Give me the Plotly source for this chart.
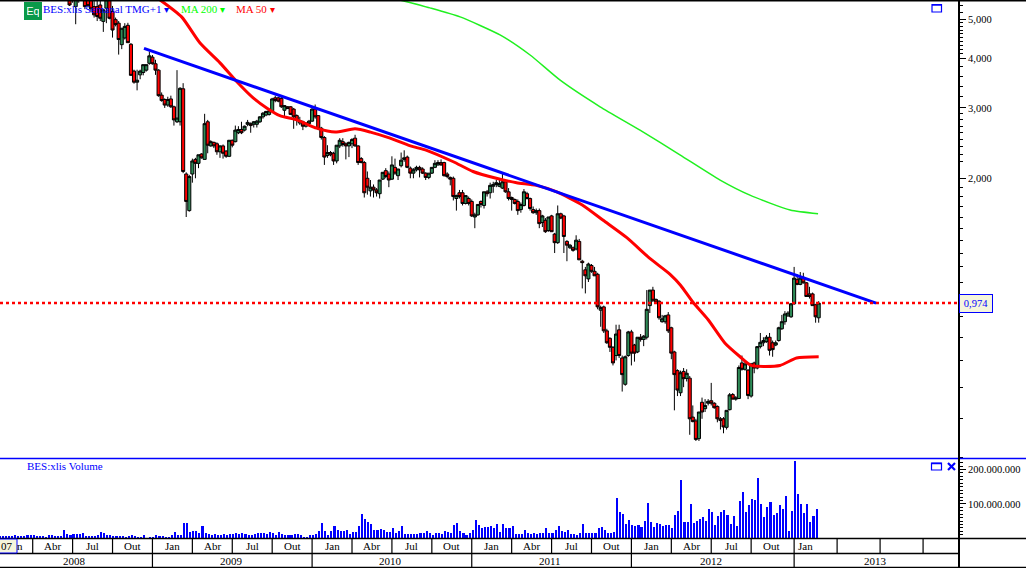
import plotly.graph_objects as go

W, H = 1026, 568
AX = 959

opens = [
 5.75,5.7,5.38,5.7,5.8,5.8,5.8,5.6,
 5.38,5.38,5.43,4.94,5.33,5.7,5.23,4.99,4.89,4.32,
 4.49,4.83,4.33,3.71,3.48,3.63,3.68,3.73,3.88,4.02,
 3.87,3.73,3.23,3.15,3.05,3.16,3.02,2.77,2.77,3.35,
 2.05,1.66,2.05,2.23,2.18,2.3,2.23,2.77,2.41,2.46,
 2.44,2.33,2.41,2.34,2.27,2.49,2.47,2.6,2.65,2.64,
 2.73,2.74,2.73,2.73,2.77,2.85,2.88,2.89,2.95,3.18,
 3.18,3.17,2.96,3.02,3.02,2.98,2.87,2.75,2.77,2.7,
 2.74,2.78,2.98,2.87,2.67,2.53,2.28,2.32,2.31,2.21,
 2.41,2.47,2.44,2.41,2.44,2.52,2.41,2.24,2.19,2.0,
 1.86,1.9,1.87,1.83,1.99,2.09,2.05,1.99,2.13,2.03,
 2.15,2.23,2.26,2.12,2.06,2.1,2.13,2.11,2.06,2.01,
 2.06,2.13,2.16,2.19,2.19,2.05,2.01,2.0,1.78,1.84,
 1.84,1.73,1.78,1.75,1.6,1.62,1.75,1.71,1.85,1.84,
 1.91,1.93,1.91,1.89,1.96,1.85,1.79,1.77,1.75,1.67,
 1.71,1.83,1.78,1.67,1.64,1.66,1.55,1.57,1.48,1.61,
 1.45,1.38,1.63,1.61,1.39,1.34,1.34,1.33,1.39,1.24,
 1.18,1.12,1.21,1.17,1.15,.935,.953,.83,.795,.755,
 .72,.835,.71,.61,.72,.825,.765,.735,.8,.79,
 .8,.96,1.05,.995,.985,.875,.875,.91,.845,.735,
 .66,.581,.657,.631,.632,.505,.494,.446,.55,.53,
 .547,.555,.547,.537,.5,.5,.476,.527,.575,.56,
 .562,.69,.665,.662,.57,.69,.67,.758,.775,.78,
 .8,.775,.765,.785,.84,.875,.905,.9,.97,1.115,
 1.085,1.13,1.095,1.027,1.027,.965,.895]
highs = [
 5.9,5.8,5.9,5.8,5.9,5.9,5.9,5.8,
 5.6,5.6,5.6,5.3,5.7,5.9,5.4,5.05,4.95,4.75,
 4.89,4.9,4.36,3.74,3.74,3.74,3.85,3.85,4.15,4.07,
 3.96,3.75,3.28,3.17,3.2,3.22,3.04,3.73,3.38,3.46,
 2.07,2.04,2.24,2.25,2.29,2.31,2.9,2.8,2.49,2.47,
 2.46,2.42,2.43,2.35,2.49,2.5,2.71,2.7,2.77,2.71,
 2.8,2.76,2.78,2.8,2.86,2.93,2.95,2.96,3.18,3.22,
 3.2,3.2,3.05,3.03,3.03,3.0,2.89,2.85,2.79,2.76,
 2.8,3.0,3.06,2.88,2.69,2.55,2.42,2.34,2.33,2.42,
 2.52,2.52,2.46,2.47,2.52,2.57,2.42,2.26,2.21,2.08,
 1.98,1.93,1.89,1.98,2.07,2.12,2.08,2.27,2.24,2.11,
 2.32,2.35,2.28,2.14,2.12,2.15,2.15,2.13,2.07,2.06,
 2.13,2.22,2.22,2.23,2.2,2.07,2.02,2.02,1.82,1.87,
 1.87,1.81,1.8,1.77,1.64,1.72,1.76,1.85,1.87,1.95,
 1.96,1.98,2.0,2.05,1.98,1.89,1.8,1.78,1.77,1.74,
 1.88,1.85,1.79,1.7,1.68,1.68,1.62,1.59,1.6,1.62,
 1.46,1.71,1.64,1.62,1.4,1.37,1.35,1.44,1.41,1.25,
 1.2,1.23,1.22,1.2,1.16,.96,.96,.84,.8,.76,
 .86,.86,.72,.72,.83,.835,.77,.8,.815,.81,
 1.05,1.05,1.07,1.0,.99,.91,.91,.925,.85,.74,
 .665,.66,.67,.665,.64,.54,.5,.52,.565,.56,
 .56,.615,.55,.54,.505,.505,.525,.58,.58,.57,
 .68,.72,.7,.665,.69,.695,.76,.82,.8,.81,
 .82,.785,.785,.85,.91,.93,.93,.975,1.2,1.15,
 1.165,1.16,1.1,1.07,1.035,.97,.985]
lows = [
 5.4,5.5,4.86,5.5,5.6,5.3,5.35,5.2,
 5.05,4.95,4.95,4.65,4.89,5.0,4.5,4.8,4.08,4.21,
 4.45,4.37,3.63,3.45,3.32,3.54,3.62,3.7,3.85,3.85,
 3.63,3.2,3.11,3.0,3.02,3.0,2.71,2.75,2.71,2.06,
 1.6,1.65,1.95,2.0,2.12,2.24,2.23,2.31,2.4,2.38,
 2.29,2.25,2.24,2.25,2.26,2.39,2.46,2.58,2.58,2.62,
 2.7,2.6,2.68,2.68,2.75,2.82,2.86,2.87,2.94,3.1,
 3.1,3.0,2.85,2.98,2.88,2.66,2.71,2.72,2.64,2.68,
 2.72,2.77,2.82,2.64,2.5,2.16,2.25,2.27,2.16,2.18,
 2.38,2.4,2.23,2.26,2.38,2.4,2.16,2.18,1.79,1.82,
 1.8,1.79,1.8,1.78,1.98,2.0,1.9,1.98,2.04,1.98,
 2.13,2.2,2.12,2.0,2.0,2.08,2.01,2.05,1.98,1.99,
 2.05,2.12,2.15,2.15,2.02,2.0,1.92,1.76,1.66,1.78,
 1.71,1.72,1.71,1.6,1.5,1.61,1.69,1.68,1.8,1.78,
 1.84,1.9,1.9,1.88,1.84,1.76,1.66,1.72,1.62,1.64,
 1.7,1.77,1.66,1.63,1.62,1.5,1.51,1.46,1.47,1.47,
 1.3,1.37,1.58,1.3,1.24,1.33,1.31,1.32,1.25,1.06,
 1.03,1.1,1.16,1.14,.94,.85,.82,.77,.735,.68,
 .7,.71,.585,.605,.715,.68,.695,.73,.78,.76,
 .79,.92,.98,.97,.885,.87,.865,.82,.705,.525,
 .57,.57,.6,.62,.456,.49,.44,.44,.5,.52,
 .54,.54,.53,.49,.47,.46,.47,.525,.56,.555,
 .56,.66,.66,.56,.565,.65,.665,.75,.76,.775,
 .72,.715,.76,.78,.835,.86,.9,.895,.965,1.08,
 1.08,1.09,1.01,1.0,.96,.87,.87]
closes = [
 5.43,5.6,5.7,5.6,5.65,5.38,5.41,5.31,
 5.13,5.08,5.03,5.28,5.6,5.03,4.7,4.85,4.45,4.75,
 4.8,4.37,3.62,3.48,3.52,3.71,3.85,3.85,4.05,3.87,
 3.73,3.22,3.13,3.05,3.15,3.02,2.8,2.83,3.36,2.08,
 1.75,2.02,2.21,2.18,2.29,2.25,2.74,2.42,2.47,2.41,
 2.33,2.41,2.31,2.27,2.49,2.42,2.64,2.65,2.6,2.7,
 2.76,2.71,2.77,2.78,2.85,2.91,2.94,2.95,3.16,3.13,
 3.12,3.02,3.04,2.99,2.89,2.85,2.79,2.79,2.7,2.75,
 2.78,2.98,2.85,2.66,2.53,2.26,2.32,2.29,2.21,2.42,
 2.49,2.43,2.41,2.46,2.5,2.41,2.19,2.19,1.84,1.9,
 1.9,1.87,1.84,1.98,2.07,2.02,1.98,2.16,2.06,2.11,
 2.22,2.25,2.13,2.06,2.1,2.13,2.1,2.06,2.01,2.06,
 2.13,2.18,2.19,2.16,2.03,2.02,1.99,1.8,1.81,1.8,
 1.73,1.81,1.73,1.61,1.62,1.72,1.72,1.85,1.83,1.92,
 1.93,1.95,1.94,1.96,1.85,1.78,1.77,1.73,1.66,1.72,
 1.85,1.78,1.68,1.64,1.66,1.54,1.61,1.47,1.6,1.47,
 1.38,1.63,1.59,1.43,1.36,1.36,1.32,1.4,1.25,1.23,
 1.14,1.22,1.17,1.14,.953,.95,.83,.775,.755,.69,
 .815,.72,.645,.715,.825,.73,.73,.8,.79,.805,
 .94,1.05,.99,.98,.895,.89,.905,.83,.73,.645,
 .59,.652,.63,.65,.5,.492,.444,.52,.52,.54,
 .553,.547,.533,.5,.495,.477,.525,.574,.56,.564,
 .672,.665,.686,.572,.686,.67,.758,.777,.785,.8,
 .742,.745,.775,.845,.875,.915,.92,.97,1.125,1.085,
 1.125,1.095,1.012,1.012,.96,.9,.974]
first_candle_bar = 22

volume_millions = [
 8,7,7,7,7,10,8,7,7,10, 10,10,7,7,7,5,10,10,8,7, 7,27,14,10,13,13,13,17,8,7,
 7,7,10,21,16,12,11,7,8,7, 7,5,8,10,8,6,6,12,1,3, 5,10,8,7,3,3,10,20,10,12,
 45,47,19,24,24,17,37,17,15,10, 14,12,12,14,10,14,14,16,14,16, 14,12,10,14,16,16,17,14,19,16,
 10,19,14,10,12,12,14,14,10,3, 3,12,12,15,23,47,23,12,23,37, 25,
 24,24,27,13,19,21,36,71,58,50,42,27,27,29,27,21,21,30,17,24,36,13,13,13,13,13,
 18,16,24,18,10,18,16,13,24,21,16,39,45,24,18,10,16,27,56,39,30,33,33,36,30,42,21,42,30,
 30,36,13,13,13,27,16,13,16,13,16,18,30,16,18,27,36,24,21,27,13,13,10,18,42,18,18,18,
 16,30,33,27,18,18,21,120,77,71,42,56,39,36,39,33,53,103,48,33,45,42,36,39,39,30,68,82,
 170,50,48,100,45,53,59,62,53,88,77,39,65,77,85,68,42,65,36,109,135,77,97,117,114,176,
 100,62,91,106,68,74,97,88,123,24,80,225,129,100,74,100,50,65,88]

ma50_bars = [51.5,58.5,64.5,71,76.5,81.8,86.2,90.5,96,102.5,108.5,115,120,126.4,133,138.3,147,153.4,161,167.6,174,180.7,189,195.8,203.5,211,217.6,221,225,230,235.5,240.4,244,253.4,258.8,266]
ma50_vals = [5.59,5.07,4.36,3.89,3.49,3.18,3.0,2.87,2.8,2.67,2.61,2.66,2.61,2.52,2.41,2.35,2.2,2.08,2.0,1.95,1.92,1.85,1.715,1.57,1.42,1.26,1.15,1.08,.98,.885,.773,.715,.68,.68,.71,.715]
ma200_bars = [129.6,139.4,149.2,162.2,172,181.8,194.8,207.8,220.8,233.9,243.6,256.7,265.8]
ma200_vals = [5.59,5.34,5.07,4.57,4.07,3.52,3.02,2.64,2.29,1.98,1.815,1.665,1.63]
trend_bars = [46.25,284.7]
trend_vals = [4.23,0.974]
last_price = 0.974

price_ticks = [2,3,4,5]
price_labels = ["2,000","3,000","4,000","5,000"]
price_minor = [.4,.5,.6,.7,.8,.9,1,1.1,1.2,1.3,1.4,1.5,1.6,1.7,1.8,1.9,2.2,2.3,2.4,2.5,2.6,2.7,2.8,2.9,3.2,3.4,3.6,3.8,
               4.1,4.2,4.3,4.4,4.5,4.6,4.7,4.8,4.9,5.2,5.4]
vol_ticks = [100e6,200e6]
vol_labels = ["100.000.000","200.000.000"]
vol_minor = [10e6,20e6,30e6,40e6,50e6,60e6,70e6,80e6,90e6,110e6,120e6,130e6,140e6,150e6,160e6,170e6,180e6,190e6,210e6,220e6]

quarter_edges = [10,23,36,49,62,75,88,101,114,127,140,153,166,179,192,205,218,231,244,258,272,286,300]
quarter_names = ["Abr","Jul","Out","Jan","Abr","Jul","Out","Jan","Abr","Jul","Out","Jan","Abr","Jul","Out","Jan","Abr","Jul","Out","Jan"]
quarter_label_bars = [16.5,29.5,42.5,55.5,68.5,81.5,94.5,107.5,120.5,133.5,146.5,159.5,172.5,185.5,198.5,211.5,224.5,237.5,250.5,261.6]
year_edges = [49,101,153,205,258]
year_names = ["2008","2009","2010","2011","2012","2013"]
year_label_bars = [23.5,74.9,126.4,178.5,231,284.4]

BLUE = "#0000ff"
SERIF = "Liberation Serif"

def px(x): return x / W
def py(y): return 1 - y / H

candle_x = list(range(first_candle_bar, first_candle_bar + len(closes)))
fig = go.Figure()
fig.add_trace(go.Candlestick(x=candle_x, open=opens, high=highs, low=lows, close=closes,
    increasing=dict(line=dict(color="black", width=1), fillcolor="#2e8b57"),
    decreasing=dict(line=dict(color="black", width=1), fillcolor="#ff0000"),
    whiskerwidth=0, hoverinfo="skip", xaxis="x", yaxis="y", showlegend=False))
fig.add_trace(go.Scatter(x=ma200_bars, y=ma200_vals, mode="lines", line=dict(color="#20f020", width=1.5, shape="spline", smoothing=0.6), hoverinfo="skip", showlegend=False))
fig.add_trace(go.Scatter(x=ma50_bars, y=ma50_vals, mode="lines", line=dict(color="#ff0000", width=3, shape="spline", smoothing=0.6), hoverinfo="skip", showlegend=False))
fig.add_trace(go.Scatter(x=trend_bars, y=trend_vals, mode="lines", line=dict(color=BLUE, width=3), hoverinfo="skip", showlegend=False))
fig.add_trace(go.Bar(x=[i - 0.7 for i in range(len(volume_millions))], y=[v * 1e6 for v in volume_millions],
    marker=dict(color=BLUE, line=dict(width=0)), width=0.68, xaxis="x", yaxis="y2", hoverinfo="skip", showlegend=False))

shapes = []
def line(x0, y0, x1, y1, color="black", width=1, dash=None):
    shapes.append(dict(type="line", xref="paper", yref="paper", x0=px(x0), y0=py(y0), x1=px(x1), y1=py(y1),
                       line=dict(color=color, width=width, dash=dash), layer="above"))
line(0, 0.5, W, 0.5, "black", 2)
line(0, 458.5, W, 458.5, BLUE, 1.5)
line(0, 538.5, W, 538.5, "black", 1.5)
line(0, 553.5, AX, 553.5, "black", 1.5)
line(0, 567.5, W, 567.5, "black", 1.5)
line(AX, 0, AX, H, "black", 2)
for e in quarter_edges:
    shapes.append(dict(type="line", xref="x", yref="paper", x0=e, x1=e, y0=py(553.5), y1=py(538.5), line=dict(color="black", width=1.2)))
for e in year_edges:
    shapes.append(dict(type="line", xref="x", yref="paper", x0=e, x1=e, y0=py(568), y1=py(553.5), line=dict(color="black", width=1.2)))
shapes.append(dict(type="line", xref="paper", yref="y", x0=0, x1=px(AX), y0=last_price, y1=last_price,
                   line=dict(color="#ff0000", width=2.5, dash="3px,3px"), layer="above"))
for (x0, y0, x1, y1) in [(932, 4.5, 941.5, 12), (931.5, 463, 941.5, 470)]:
    shapes.append(dict(type="rect", xref="paper", yref="paper", x0=px(x0), x1=px(x1), y0=py(y1), y1=py(y0),
                       line=dict(color=BLUE, width=1.2), layer="above"))
    line(x0, y0 + 0.5, x1, y0 + 0.5, BLUE, 1.5)
line(948, 463, 955, 470, BLUE, 2.2)
line(955, 463, 948, 470, BLUE, 2.2)
shapes.append(dict(type="rect", xref="paper", yref="paper", x0=px(-2), x1=px(17), y0=py(553), y1=py(539),
                   fillcolor="#f5f5dc", line=dict(color=BLUE, width=1), layer="above"))

ann = []
def text(x, y, s, color="black", size=11, xanchor="left", xref="paper", family=SERIF, **kw):
    ann.append(dict(x=x if xref != "paper" else px(x), y=py(y), xref=xref, yref="paper", text=s, showarrow=False,
                    xanchor=xanchor, yanchor="middle", font=dict(family=family, size=size, color=color), **kw))
ARROW = " <span style='font-size:10px'>▾</span>"
text(41, 8.5, "BES:xlis Semanal TMG+1" + ARROW, BLUE, 11)
text(179, 8.5, "MA 200" + ARROW, "#00ff00", 11)
text(234, 8.5, "MA 50" + ARROW, "#ff0000", 11)
text(33, 11, "Eq", "white", 11, "center", family="Liberation Sans", bgcolor="#0a9a4a", borderpad=2,
     bordercolor="#0a9a4a", width=12, height=12)
text(25, 466, "BES:xlis Volume", BLUE, 11)
text(976, 303.5, "0,974", BLUE, 10.5, "center", bgcolor="#f5f5dc", bordercolor=BLUE, borderwidth=1, borderpad=2, width=28, height=13)
for b, s in zip(quarter_label_bars, quarter_names):
    text(b, 546, s, "black", 11, "center", xref="x")
for b, s in zip(year_label_bars, year_names):
    text(b, 560.5, s, "black", 11, "center", xref="x")
text(7, 546, "07", "black", 11, "center")
text(19.5, 546, "n", "black", 11, "center")

axis_font = dict(family=SERIF, size=10.5, color="black")
fig.update_layout(
    width=W, height=H, margin=dict(l=0, r=0, t=0, b=0), paper_bgcolor="white", plot_bgcolor="white",
    showlegend=False, shapes=shapes, annotations=ann, bargap=0, boxgap=0, boxgroupgap=0,
    xaxis=dict(domain=[0, px(AX)], range=[-0.651, 311.7], anchor="y2", showticklabels=False, ticks="",
               showgrid=False, zeroline=False, showline=False, rangeslider=dict(visible=False)),
    yaxis=dict(domain=[py(458.5), 1], type="log", range=[-0.4004, 0.7473], anchor="x", side="right",
               tickvals=price_ticks, ticktext=price_labels, ticks="outside", ticklen=6, tickcolor="black", tickwidth=1,
               tickfont=axis_font, showgrid=False, zeroline=False, showline=False,
               minor=dict(tickvals=price_minor, ticks="outside", ticklen=3, tickcolor="black", tickwidth=1, showgrid=False)),
    yaxis2=dict(domain=[py(538.3), py(459.5)], range=[0, 229e6], anchor="x", side="right",
                tickvals=vol_ticks, ticktext=vol_labels, ticks="outside", ticklen=6, tickcolor="black", tickwidth=1,
                tickfont=axis_font, showgrid=False, zeroline=False, showline=False,
                minor=dict(tickvals=vol_minor, ticks="outside", ticklen=3, tickcolor="black", tickwidth=1, showgrid=False)),
)
fig.write_html("out.html", config=dict(displayModeBar=False, responsive=False),
               post_script="document.body.style.margin='0';document.documentElement.style.overflow='hidden';")
